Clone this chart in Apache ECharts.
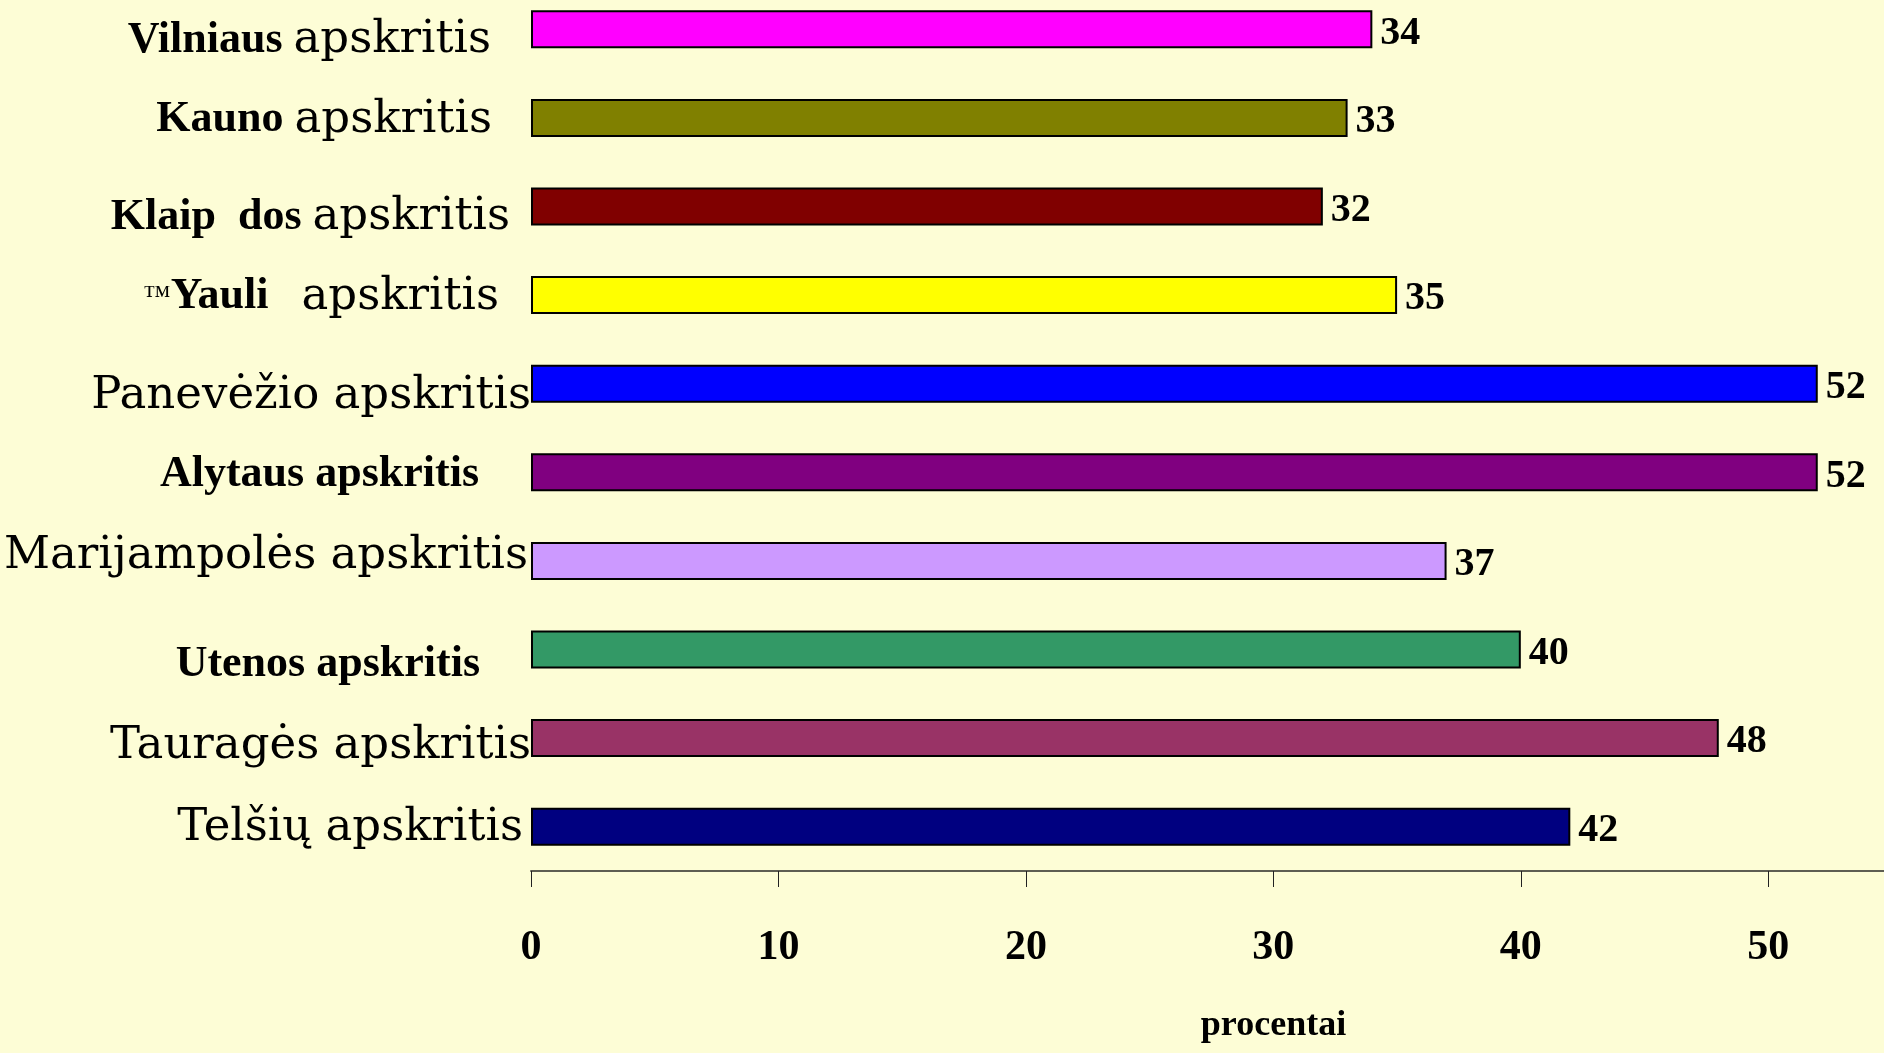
<!DOCTYPE html>
<html lang="lt">
<head>
<meta charset="utf-8">
<title>Apskritys, procentai</title>
<script src="https://cdn.jsdelivr.net/npm/echarts@6/dist/echarts.min.js"></script>
<style>
  html, body { margin: 0; padding: 0; background: #FDFDD6; }
  #chart { width: 1884px; height: 1053px; }
</style>
</head>
<body>
<div id="chart"></div>
<script>
// Category names, top to bottom
const categories = [
  'Vilniaus apskritis',
  'Kauno apskritis',
  'Klaip  dos apskritis',
  '™Yauli   apskritis',
  'Panevėžio apskritis',
  'Alytaus apskritis',
  'Marijampolės apskritis',
  'Utenos apskritis',
  'Tauragės apskritis',
  'Telšių apskritis'
];

// Values, percent
const values = [34, 33, 32, 35, 52, 52, 37, 40, 48, 42];

// Value axis ticks
const axisMin = 0;
const axisMax = 55;
const axisStep = 10;

// Bar fill colours
const barColors = [
  '#FF00FF', '#808000', '#800000', '#FFFF00', '#0000FF',
  '#800080', '#CC99FF', '#339966', '#993366', '#000080'
];

// Label typography per row: 'mix' = bold name + light "apskritis",
// 'bold' = whole label bold, 'wide' = whole label light
const labelKinds = ['mix', 'mix', 'mix', 'mix', 'wide', 'bold', 'wide', 'bold', 'wide', 'wide'];
// Gap between label and axis (px), and vertical shift of each label (px)
const labelGap = [40, 39, 21, 32, 0, 52, 3, 51, 0, 8];
const labelShift = [11, 2, 11, 2, 13, 2, -5, 15, 8, 2];

function formatLabel(value, index) {
  const kind = labelKinds[index];
  if (kind === 'wide') return '{w|' + value + '}';
  if (kind === 'bold') return '{b|' + value + '}';
  const cut = value.lastIndexOf(' ') + 1;
  let head = value.slice(0, cut);
  const tail = value.slice(cut);
  let pre = '';
  if (head.charAt(0) === '™') {
    pre = '{tm|™}';
    head = head.slice(1);
  }
  return pre + '{b|' + head + '}{w|' + tail + '}';
}

const categoryData = categories.map(function (name, i) {
  const s = labelShift[i];
  return {
    value: name,
    textStyle: {
      padding: [Math.max(0, 2 * s), labelGap[i], Math.max(0, -2 * s), 0]
    }
  };
});

const barData = values.map(function (v, i) {
  return { value: v, itemStyle: { color: barColors[i] } };
});

const chart = echarts.init(document.getElementById('chart'), null, { renderer: 'canvas' });

chart.setOption({
  backgroundColor: '#FDFDD6',
  animation: false,
  grid: {
    left: 531,
    right: -8,
    top: -15,
    bottom: 182,
    containLabel: false,
    outerBoundsMode: 'none'
  },
  xAxis: {
    type: 'value',
    position: 'bottom',
    min: axisMin,
    max: axisMax,
    interval: axisStep,
    name: 'procentai',
    nameLocation: 'middle',
    nameGap: 137,
    nameTextStyle: {
      fontFamily: 'Liberation Serif',
      fontWeight: 'bold',
      fontSize: 36,
      color: '#000',
      padding: [0, 0, 0, 124]
    },
    axisLine: { show: true, lineStyle: { color: '#5e5e52', width: 2 } },
    axisTick: { show: true, length: 16, lineStyle: { color: '#222', width: 1 } },
    axisLabel: {
      margin: 56,
      showMaxLabel: false,
      fontFamily: 'Liberation Serif',
      fontWeight: 'bold',
      fontSize: 42,
      color: '#000'
    },
    splitLine: { show: false }
  },
  yAxis: {
    type: 'category',
    inverse: true,
    data: categoryData,
    axisLine: { show: false },
    axisTick: { show: false },
    axisLabel: {
      margin: 0,
      formatter: formatLabel,
      rich: {
        b: { fontFamily: 'Liberation Serif', fontWeight: 'bold', fontSize: 44, color: '#000' },
        w: { fontFamily: 'DejaVu Serif', fontWeight: 'normal', fontSize: 45, color: '#000' },
        tm: { fontFamily: 'Liberation Serif', fontWeight: 'normal', fontSize: 28, color: '#000' }
      }
    },
    splitLine: { show: false }
  },
  series: [{
    type: 'bar',
    data: barData,
    barWidth: 38,
    itemStyle: { borderColor: '#000', borderWidth: 2 },
    label: {
      show: true,
      position: 'right',
      distance: 8,
      offset: [0, 4],
      fontFamily: 'Liberation Serif',
      fontWeight: 'bold',
      fontSize: 40,
      color: '#000'
    }
  }]
});
</script>
</body>
</html>
